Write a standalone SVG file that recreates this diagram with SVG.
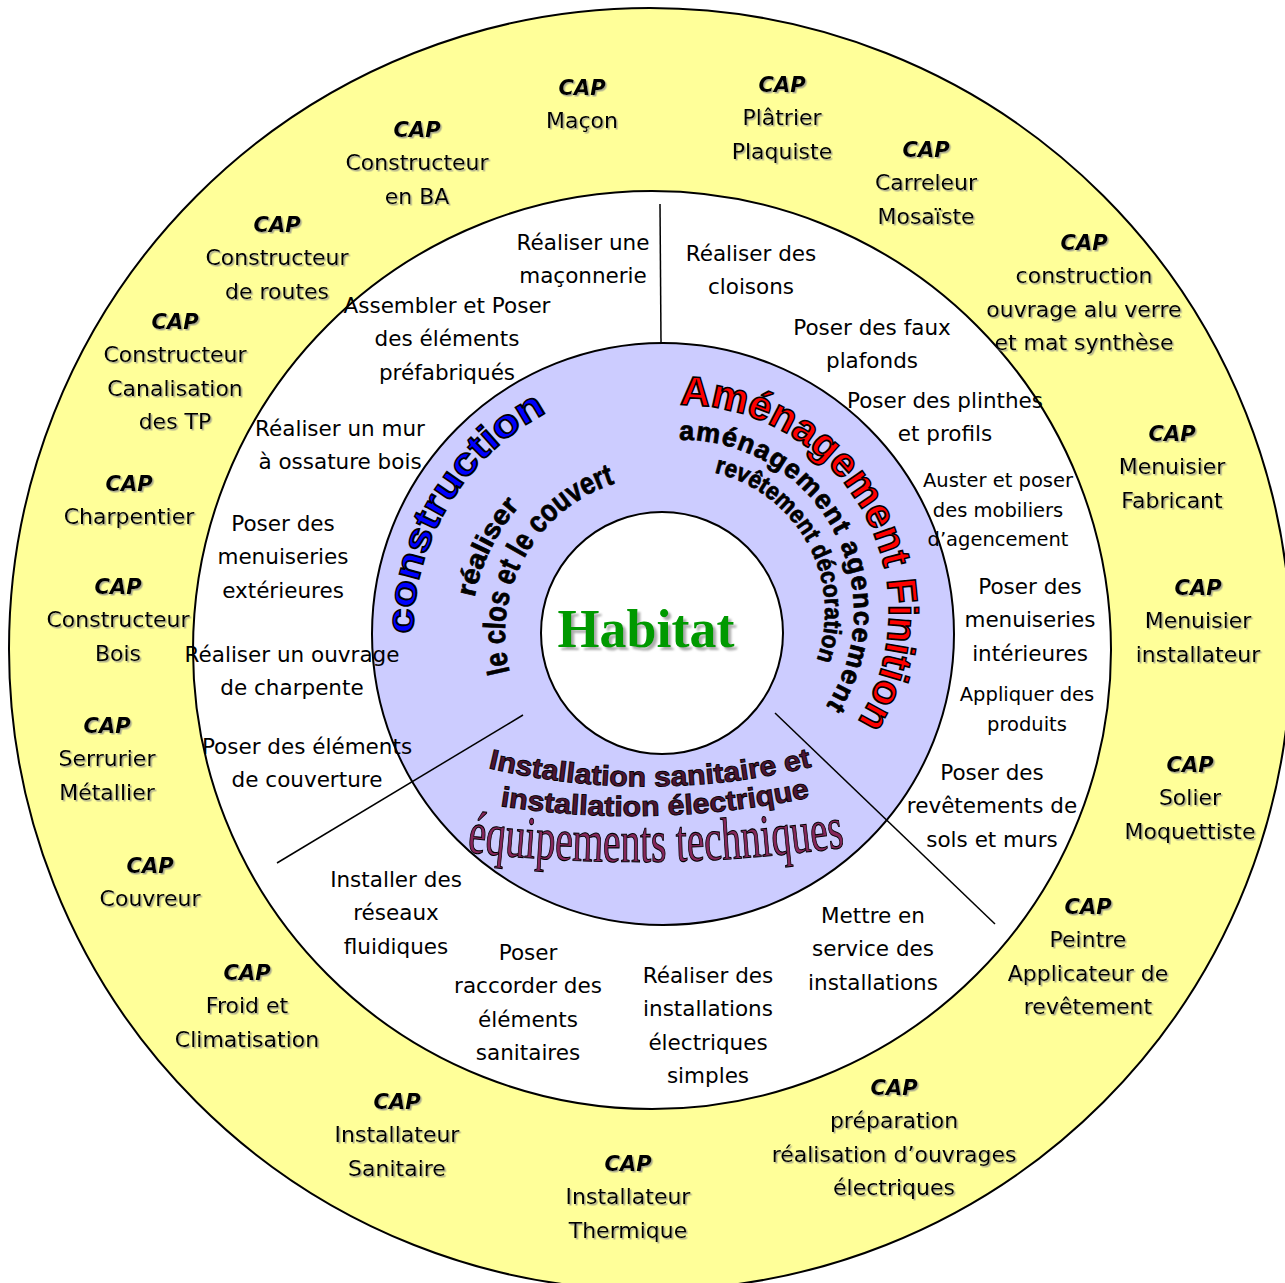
<svg xmlns="http://www.w3.org/2000/svg" width="1285" height="1283" viewBox="0 0 1285 1283">
<style>
.ring{stroke:#000;stroke-width:2}
.cap{font-family:"DejaVu Sans",sans-serif;font-size:22px;fill:#000;text-anchor:middle}
.cap .h{font-weight:bold;font-style:italic;font-size:21px}
.task{font-family:"DejaVu Sans",sans-serif;font-size:21.5px;fill:#000;text-anchor:middle}
.small{font-size:19.5px}
.wa{font-family:"Liberation Sans",Arial,sans-serif;font-weight:bold}
.blk{fill:#000;stroke:#000;stroke-width:0.7}
.conn{stroke:#000;stroke-width:1.5;fill:none}
</style>
<defs>
<filter id="sh" x="-10%" y="-10%" width="120%" height="130%">
<feDropShadow dx="1.5" dy="1.5" stdDeviation="0.6" flood-color="#888" flood-opacity="0.7"/>
</filter>
<filter id="sh2" x="-10%" y="-20%" width="130%" height="150%">
<feDropShadow dx="3" dy="3" stdDeviation="0.8" flood-color="#999" flood-opacity="0.8"/>
</filter>
<path id="pConstruction" d="M413,634 A250,250 0 0 1 598.3,392.5"/>
<path id="pRealiser" d="M474.5,597.4 A192,192 0 0 1 539.6,486.9"/>
<path id="pClos" d="M509.7,672.2 A158,158 0 0 1 622.1,481.4"/>
<path id="pAmen" d="M680,405 A207,207 0 0 1 851.6,730.7"/>
<path id="pAmen2" d="M679,440 A172,172 0 0 1 821.1,713.1"/>
<path id="pRevet" d="M714.2,472.7 A143,143 0 0 1 811.6,672.4"/>
<path id="pInst1" d="M488,768 Q650,806 815,766"/>
<path id="pInst2" d="M500,806 Q655,830 812,797"/>
<path id="pEquip" d="M467,852 Q655,874 846,847"/>
</defs>

<g id="ring-cap">
<circle class="ring" cx="650" cy="649" r="641" fill="#FFFF99"/>
</g>
<g id="ring-tasks">
<circle class="ring" cx="652" cy="650" r="459" fill="#FFFFFF"/>
</g>
<g id="ring-domains">
<circle class="ring" cx="663" cy="634" r="291" fill="#CCCCFF"/>
</g>
<g id="center">
<circle class="ring" cx="662" cy="633" r="121" fill="#FFFFFF"/>
<text x="646" y="647" text-anchor="middle" font-family="'Liberation Serif',serif" font-weight="bold" font-size="54" fill="#009900" filter="url(#sh2)">Habitat</text>
</g>

<g id="connectors">
<line class="conn" x1="660" y1="204" x2="661" y2="343"/>
<line class="conn" x1="523" y1="715" x2="277" y2="863"/>
<line class="conn" x1="775" y1="713" x2="995" y2="924"/>
</g>

<g id="domain-construction">
<text class="wa" font-size="38" fill="#0000FF" stroke="#000" stroke-width="1.6"><textPath href="#pConstruction" textLength="272" lengthAdjust="spacingAndGlyphs">construction</textPath></text>
<text class="wa blk" font-size="27"><textPath href="#pRealiser" textLength="103" lengthAdjust="spacingAndGlyphs">réaliser</textPath></text>
<text class="wa blk" font-size="31"><textPath href="#pClos" textLength="238" lengthAdjust="spacingAndGlyphs">le clos et le couvert</textPath></text>
</g>
<g id="domain-amenagement">
<text class="wa" font-size="41" fill="#FF0000" stroke="#000" stroke-width="1.6"><textPath href="#pAmen" textLength="443" lengthAdjust="spacingAndGlyphs">Aménagement Finition</textPath></text>
<text class="wa blk" font-size="27"><textPath href="#pAmen2" textLength="372" lengthAdjust="spacing">aménagement agencement</textPath></text>
<text class="wa blk" font-size="25"><textPath href="#pRevet" textLength="241" lengthAdjust="spacingAndGlyphs">revêtement  décoration</textPath></text>
</g>
<g id="domain-equipements">
<text class="wa" font-size="28" fill="#4e1533" stroke="#000" stroke-width="0.9"><textPath href="#pInst1" textLength="327" lengthAdjust="spacingAndGlyphs">Installation sanitaire et</textPath></text>
<text class="wa" font-size="28" fill="#4e1533" stroke="#000" stroke-width="0.9"><textPath href="#pInst2" textLength="312" lengthAdjust="spacingAndGlyphs">installation électrique</textPath></text>
<text font-family="'Liberation Serif',serif" font-size="60" fill="#85265a" stroke="#000" stroke-width="1.1"><textPath href="#pEquip" textLength="379" lengthAdjust="spacingAndGlyphs">équipements techniques</textPath></text>
</g>

<g id="cap-labels" filter="url(#sh)">
<g id="cap-macon"><text class="cap" y="95"><tspan class="h" x="582">CAP</tspan><tspan x="582" dy="33.3">Maçon</tspan></text></g>
<g id="cap-platrier"><text class="cap" y="92"><tspan class="h" x="782">CAP</tspan><tspan x="782" dy="33.3">Plâtrier</tspan><tspan x="782" dy="33.3">Plaquiste</tspan></text></g>
<g id="cap-constructeur-ba"><text class="cap" y="137"><tspan class="h" x="417">CAP</tspan><tspan x="417" dy="33.3">Constructeur</tspan><tspan x="417" dy="33.3">en BA</tspan></text></g>
<g id="cap-carreleur"><text class="cap" y="157"><tspan class="h" x="926">CAP</tspan><tspan x="926" dy="33.3">Carreleur</tspan><tspan x="926" dy="33.3">Mosaïste</tspan></text></g>
<g id="cap-routes"><text class="cap" y="232"><tspan class="h" x="277">CAP</tspan><tspan x="277" dy="33.3">Constructeur</tspan><tspan x="277" dy="33.3">de routes</tspan></text></g>
<g id="cap-alu"><text class="cap" y="250"><tspan class="h" x="1084">CAP</tspan><tspan x="1084" dy="33.3">construction</tspan><tspan x="1084" dy="33.3">ouvrage alu verre</tspan><tspan x="1084" dy="33.3">et mat synthèse</tspan></text></g>
<g id="cap-canalisation"><text class="cap" y="329"><tspan class="h" x="175">CAP</tspan><tspan x="175" dy="33.3">Constructeur</tspan><tspan x="175" dy="33.3">Canalisation</tspan><tspan x="175" dy="33.3">des TP</tspan></text></g>
<g id="cap-menuisier-fab"><text class="cap" y="441"><tspan class="h" x="1172">CAP</tspan><tspan x="1172" dy="33.3">Menuisier</tspan><tspan x="1172" dy="33.3">Fabricant</tspan></text></g>
<g id="cap-charpentier"><text class="cap" y="491"><tspan class="h" x="129">CAP</tspan><tspan x="129" dy="33.3">Charpentier</tspan></text></g>
<g id="cap-menuisier-inst"><text class="cap" y="595"><tspan class="h" x="1198">CAP</tspan><tspan x="1198" dy="33.3">Menuisier</tspan><tspan x="1198" dy="33.3">installateur</tspan></text></g>
<g id="cap-bois"><text class="cap" y="594"><tspan class="h" x="118">CAP</tspan><tspan x="118" dy="33.3">Constructeur</tspan><tspan x="118" dy="33.3">Bois</tspan></text></g>
<g id="cap-serrurier"><text class="cap" y="733"><tspan class="h" x="107">CAP</tspan><tspan x="107" dy="33.3">Serrurier</tspan><tspan x="107" dy="33.3">Métallier</tspan></text></g>
<g id="cap-solier"><text class="cap" y="772"><tspan class="h" x="1190">CAP</tspan><tspan x="1190" dy="33.3">Solier</tspan><tspan x="1190" dy="33.3">Moquettiste</tspan></text></g>
<g id="cap-couvreur"><text class="cap" y="873"><tspan class="h" x="150">CAP</tspan><tspan x="150" dy="33.3">Couvreur</tspan></text></g>
<g id="cap-peintre"><text class="cap" y="914"><tspan class="h" x="1088">CAP</tspan><tspan x="1088" dy="33.3">Peintre</tspan><tspan x="1088" dy="33.3">Applicateur de</tspan><tspan x="1088" dy="33.3">revêtement</tspan></text></g>
<g id="cap-froid"><text class="cap" y="980"><tspan class="h" x="247">CAP</tspan><tspan x="247" dy="33.3">Froid et</tspan><tspan x="247" dy="33.3">Climatisation</tspan></text></g>
<g id="cap-electrique"><text class="cap" y="1095"><tspan class="h" x="894">CAP</tspan><tspan x="894" dy="33.3">préparation</tspan><tspan x="894" dy="33.3">réalisation d’ouvrages</tspan><tspan x="894" dy="33.3">électriques</tspan></text></g>
<g id="cap-sanitaire"><text class="cap" y="1109"><tspan class="h" x="397">CAP</tspan><tspan x="397" dy="33.3">Installateur</tspan><tspan x="397" dy="33.3">Sanitaire</tspan></text></g>
<g id="cap-thermique"><text class="cap" y="1171"><tspan class="h" x="628">CAP</tspan><tspan x="628" dy="33.3">Installateur</tspan><tspan x="628" dy="33.3">Thermique</tspan></text></g>
</g>

<g id="tasks">
<g id="t-maconnerie"><text class="task" y="250"><tspan x="583">Réaliser une</tspan><tspan x="583" dy="33.3">maçonnerie</tspan></text></g>
<g id="t-cloisons"><text class="task" y="261"><tspan x="751">Réaliser des</tspan><tspan x="751" dy="33.3">cloisons</tspan></text></g>
<g id="t-prefab"><text class="task" y="313"><tspan x="447">Assembler et Poser</tspan><tspan x="447" dy="33.3">des éléments</tspan><tspan x="447" dy="33.3">préfabriqués</tspan></text></g>
<g id="t-plafonds"><text class="task" y="335"><tspan x="872">Poser des faux</tspan><tspan x="872" dy="33.3">plafonds</tspan></text></g>
<g id="t-plinthes"><text class="task" y="408"><tspan x="945">Poser des plinthes</tspan><tspan x="945" dy="33.3">et profils</tspan></text></g>
<g id="t-mur"><text class="task" y="436"><tspan x="340">Réaliser un mur</tspan><tspan x="340" dy="33.3">à ossature bois</tspan></text></g>
<g id="t-mobiliers"><text class="task small" y="487"><tspan x="998">Auster et poser</tspan><tspan x="998" dy="29.5">des mobiliers</tspan><tspan x="998" dy="29.5">d’agencement</tspan></text></g>
<g id="t-menuiseries-ext"><text class="task" y="531"><tspan x="283">Poser des</tspan><tspan x="283" dy="33.3">menuiseries</tspan><tspan x="283" dy="33.3">extérieures</tspan></text></g>
<g id="t-menuiseries-int"><text class="task" y="594"><tspan x="1030">Poser des</tspan><tspan x="1030" dy="33.3">menuiseries</tspan><tspan x="1030" dy="33.3">intérieures</tspan></text></g>
<g id="t-charpente"><text class="task" y="662"><tspan x="292">Réaliser un ouvrage</tspan><tspan x="292" dy="33.3">de charpente</tspan></text></g>
<g id="t-produits"><text class="task small" y="701"><tspan x="1027">Appliquer des</tspan><tspan x="1027" dy="30">produits</tspan></text></g>
<g id="t-couverture"><text class="task" y="754"><tspan x="307">Poser des éléments</tspan><tspan x="307" dy="33.3">de couverture</tspan></text></g>
<g id="t-revetements"><text class="task" y="780"><tspan x="992">Poser des</tspan><tspan x="992" dy="33.3">revêtements de</tspan><tspan x="992" dy="33.3">sols et murs</tspan></text></g>
<g id="t-reseaux"><text class="task" y="887"><tspan x="396">Installer des</tspan><tspan x="396" dy="33.3">réseaux</tspan><tspan x="396" dy="33.3">fluidiques</tspan></text></g>
<g id="t-service"><text class="task" y="923"><tspan x="873">Mettre en</tspan><tspan x="873" dy="33.3">service des</tspan><tspan x="873" dy="33.3">installations</tspan></text></g>
<g id="t-sanitaires"><text class="task" y="960"><tspan x="528">Poser</tspan><tspan x="528" dy="33.3">raccorder des</tspan><tspan x="528" dy="33.3">éléments</tspan><tspan x="528" dy="33.3">sanitaires</tspan></text></g>
<g id="t-electriques"><text class="task" y="983"><tspan x="708">Réaliser des</tspan><tspan x="708" dy="33.3">installations</tspan><tspan x="708" dy="33.3">électriques</tspan><tspan x="708" dy="33.3">simples</tspan></text></g>
</g>
</svg>
